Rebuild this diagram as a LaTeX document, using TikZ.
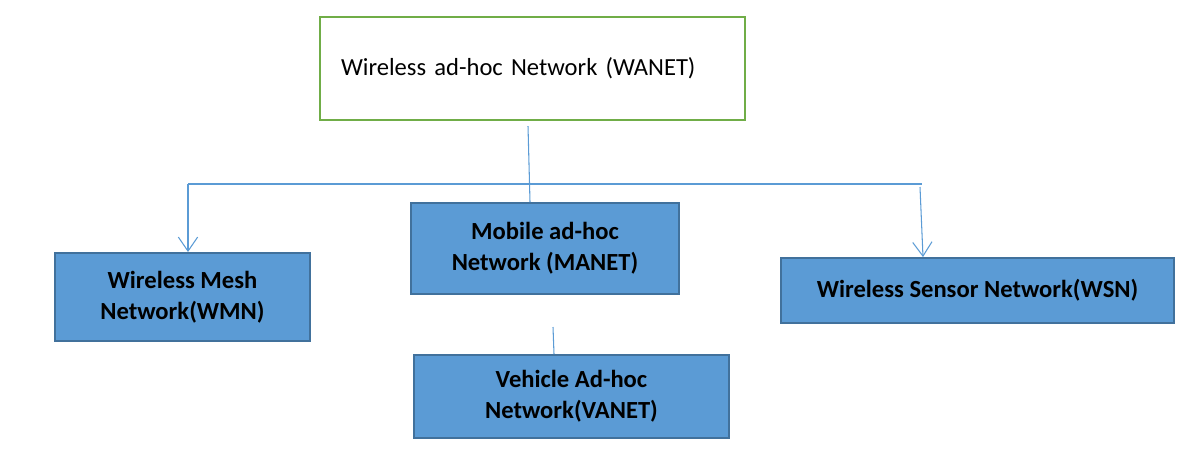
\documentclass[tikz,border=0pt]{standalone}
\usepackage{fontspec}
\setmainfont{Carlito}
\usepackage{tikz}
\usetikzlibrary{arrows.meta}

\definecolor{boxblue}{HTML}{5B9BD5}
\definecolor{boxedge}{HTML}{41719C}
\definecolor{topgreen}{HTML}{70AD47}

\begin{document}
\begin{tikzpicture}[x=0.02cm, y=-0.02cm,
   netbox/.style={draw=boxedge, fill=boxblue, line width=1.1pt, align=center,
      font=\fontsize{14}{17.5}\selectfont\bfseries},
   link/.style={draw=boxblue, line width=0.6pt},
   arrow/.style={link, -{Straight Barb[length=8pt, width=11pt, line width=0.6pt]}}]
   \useasboundingbox (0,0) rectangle (1183,451);

   \node[draw=topgreen, line width=1.2pt, minimum width=8.5cm, minimum height=2.06cm,
      text width=7.66cm, inner xsep=0.42cm, align=left, font=\fontsize{14}{17}\selectfont]
      (wanet) at (532.5,68.5) {Wireless ad-hoc Network (WANET)};

   \node[netbox, minimum width=5.1cm, minimum height=1.76cm] (wmn) at (182.5,297) {Wireless Mesh\\Network(WMN)};
   \node[netbox, minimum width=5.36cm, minimum height=1.82cm] (manet) at (545,248.5) {Mobile ad-hoc\\Network (MANET)};
   \node[netbox, minimum width=7.86cm, minimum height=1.3cm] (wsn) at (977.5,290.5) {Wireless Sensor Network(WSN)};
   \node[netbox, minimum width=6.3cm, minimum height=1.66cm] (vanet) at (571.5,396.5) {Vehicle Ad-hoc\\Network(VANET)};

   \coordinate (hl) at (188,184);
   \coordinate (hr) at (922,184);
   \coordinate (vt) at (553,327);

   \draw[link] ([shift={(-4.5,5)}]wanet.south) -- ([shift={(-15,0)}]manet.north);
   \draw[link] (hl) -- (hr);
   \draw[arrow] (hl) -- (hl |- wmn.north);
   \draw[arrow] ([shift={(-2,3)}]hr) -- ([shift={(1,0)}]hr |- wsn.north);
   \draw[link] (vt) -- ([shift={(1,0)}]vt |- vanet.north);
\end{tikzpicture}
\end{document}
